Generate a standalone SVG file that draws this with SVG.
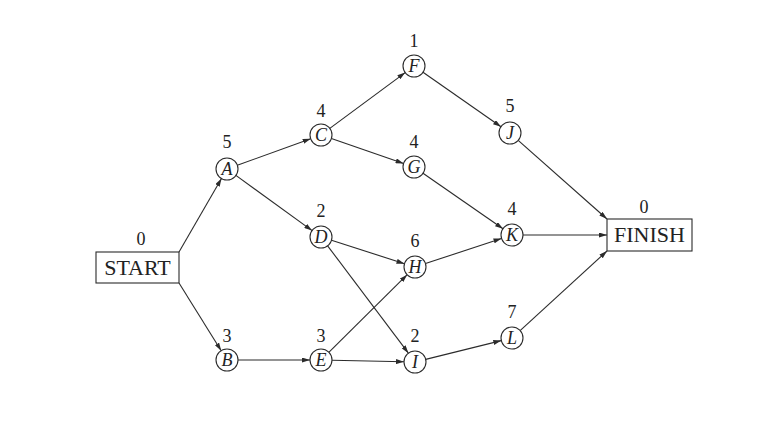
<svg xmlns="http://www.w3.org/2000/svg" width="766" height="424" viewBox="0 0 766 424">
<defs>
<marker id="ah" viewBox="0 0 8 5" refX="8" refY="2.5" markerWidth="8" markerHeight="5" markerUnits="userSpaceOnUse" orient="auto">
<path d="M0,0 L8,2.5 L0,5 z" fill="#2b2b2b"/>
</marker>
<style>
.e{stroke:#2b2b2b;stroke-width:1.1;fill:none;marker-end:url(#ah)}
.c{fill:#fff;stroke:#2b2b2b;stroke-width:1.1}
.b{fill:#fff;stroke:#2b2b2b;stroke-width:1.1}
text{font-family:'Liberation Serif','DejaVu Serif',serif;fill:#222;text-anchor:middle}
.l{font-size:18px;font-style:italic}
.n{font-size:18px}
.t{font-size:22px}
</style>
</defs>
<rect width="766" height="424" fill="#fff"/>
<g id="connectors">
<line class="e" x1="179" y1="252" x2="221.5" y2="178.5"/>
<line class="e" x1="179" y1="283" x2="221.2" y2="350.7"/>
<line class="e" x1="237.3" y1="165.3" x2="310.7" y2="138.7"/>
<line class="e" x1="235.9" y1="175.4" x2="312.1" y2="230.6"/>
<line class="e" x1="238" y1="360" x2="310" y2="360"/>
<line class="e" x1="329.8" y1="128.4" x2="405.2" y2="72.6"/>
<line class="e" x1="331.4" y1="138.6" x2="403.6" y2="163.4"/>
<line class="e" x1="331.5" y1="240.3" x2="404.5" y2="263.7"/>
<line class="e" x1="327.6" y1="245.8" x2="408.4" y2="353.2"/>
<line class="e" x1="328.8" y1="352.3" x2="407.2" y2="274.7"/>
<line class="e" x1="332" y1="360.2" x2="404" y2="361.8"/>
<line class="e" x1="423" y1="72.3" x2="501" y2="126.7"/>
<line class="e" x1="423" y1="173.3" x2="503" y2="228.7"/>
<line class="e" x1="425.5" y1="263.6" x2="501.5" y2="238.4"/>
<line class="e" x1="425.7" y1="359.4" x2="501.3" y2="340.6"/>
<line class="e" x1="518.2" y1="140.3" x2="607" y2="219"/>
<line class="e" x1="523" y1="235" x2="607" y2="235"/>
<line class="e" x1="520.1" y1="330.6" x2="607" y2="251"/>
</g>
<g id="START"><rect class="b" x="96" y="252" width="83" height="31"/><text class="t" x="137.5" y="275">START</text><text class="n" x="141" y="245">0</text></g>
<g id="A"><circle class="c" cx="227" cy="169" r="11"/><text class="l" x="227" y="175">A</text><text class="n" x="227" y="148">5</text></g>
<g id="B"><circle class="c" cx="227" cy="360" r="11"/><text class="l" x="227" y="366">B</text><text class="n" x="227" y="342">3</text></g>
<g id="C"><circle class="c" cx="321" cy="135" r="11"/><text class="l" x="321" y="141">C</text><text class="n" x="321" y="117">4</text></g>
<g id="D"><circle class="c" cx="321" cy="237" r="11"/><text class="l" x="321" y="243">D</text><text class="n" x="321" y="217">2</text></g>
<g id="E"><circle class="c" cx="321" cy="360" r="11"/><text class="l" x="321" y="366">E</text><text class="n" x="321" y="342">3</text></g>
<g id="F"><circle class="c" cx="414" cy="66" r="11"/><text class="l" x="414" y="72">F</text><text class="n" x="414" y="47">1</text></g>
<g id="G"><circle class="c" cx="414" cy="167" r="11"/><text class="l" x="414" y="173">G</text><text class="n" x="414" y="148">4</text></g>
<g id="H"><circle class="c" cx="415" cy="267" r="11"/><text class="l" x="415" y="273">H</text><text class="n" x="415" y="247">6</text></g>
<g id="I"><circle class="c" cx="415" cy="362" r="11"/><text class="l" x="415" y="368">I</text><text class="n" x="415" y="342">2</text></g>
<g id="J"><circle class="c" cx="510" cy="133" r="11"/><text class="l" x="510" y="139">J</text><text class="n" x="510" y="112">5</text></g>
<g id="K"><circle class="c" cx="512" cy="235" r="11"/><text class="l" x="512" y="241">K</text><text class="n" x="512" y="215">4</text></g>
<g id="L"><circle class="c" cx="512" cy="338" r="11"/><text class="l" x="512" y="344">L</text><text class="n" x="512" y="318">7</text></g>
<g id="FINISH"><rect class="b" x="607" y="219" width="85" height="32"/><text class="t" x="649.5" y="242">FINISH</text><text class="n" x="644" y="213">0</text></g>
</svg>
